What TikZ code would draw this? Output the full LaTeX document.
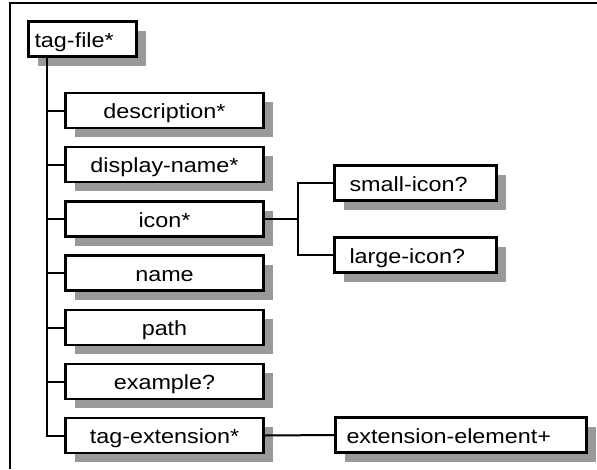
\documentclass[tikz,border=0pt]{standalone}
\usepackage{fontspec}
\setmainfont[FakeStretch=1.14]{Liberation Sans}
\usetikzlibrary{shadows}
\definecolor{shadowgray}{HTML}{999999}
\newcommand\tgboxfont{\fontsize{20.5}{25}\selectfont}
\tikzset{
  box/.style={draw, line width=2.6pt, fill=white, minimum height=35pt, inner ysep=0pt,
    text height=16pt, text depth=0pt, font=\tgboxfont,
    general shadow={fill=shadowgray, shadow xshift=9pt, shadow yshift=-9pt}},
  mainbox/.style={box, minimum width=198pt, inner xsep=0pt},
  leftbox/.style 2 args={box, inner xsep=#2, text width=#1-2*#2, align=left},
  conn/.style={line width=2pt},
  frame/.style={line width=2.6pt}
}
\begin{document}
\begin{tikzpicture}[x=1pt,y=-1pt]
\useasboundingbox (0,0) rectangle (597,469);
\draw[frame] (10,469) -- (10,3) -- (597,3);

\node[leftbox={108pt}{6pt}] (tagfile) at (82.5,39) {tag-file*};

\node[mainbox] (desc) at (164.5,110.5) {description*};
\node[mainbox] (disp) at (164.5,164.5) {display-name*};
\node[mainbox] (icon) at (164.5,219) {icon*};
\node[mainbox] (name) at (164.5,273) {name};
\node[mainbox] (path) at (164.5,327.5) {path};
\node[mainbox] (example) at (164.5,381.5) {example?};
\node[mainbox] (tagext) at (164.5,435.5) {tag-extension*};

\node[leftbox={162pt}{15pt}] (small) at (415.5,183) {small-icon?};
\node[leftbox={162pt}{15pt}] (large) at (415.5,255) {large-icon?};
\node[leftbox={251pt}{11pt}] (extel) at (461,435) {extension-element+};

\coordinate (trunk) at (47,0);
\coordinate (fork) at (298,0);

\draw[conn] (tagfile.south -| trunk) |- (tagext.west);
\foreach \n in {desc,disp,icon,name,path,example}
  \draw[conn] (\n.west -| trunk) -- (\n.west);
\draw[conn] (icon.east) -- (icon.east -| fork);
\draw[conn] (small.west) -- (small.west -| fork) |- (large.west);
\draw[conn] (tagext.east) -- (extel.west);
\end{tikzpicture}
\end{document}
